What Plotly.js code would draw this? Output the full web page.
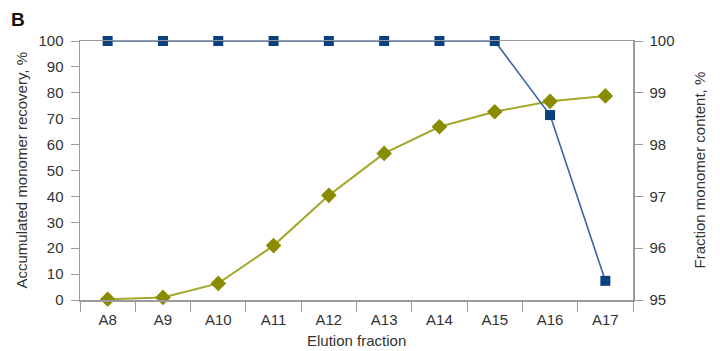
<!DOCTYPE html>
<html>
<head>
<meta charset="utf-8">
<script src="https://cdn.plot.ly/plotly-3.0.1.min.js"></script>
<style>html,body{margin:0;padding:0;background:#fff;}#chart{width:720px;height:351px;}</style>
</head>
<body>
<div id="chart"></div>
<script>
const fractions = ["A8","A9","A10","A11","A12","A13","A14","A15","A16","A17"];
const recovery = [0.3, 1.0, 6.4, 21.0, 40.4, 56.6, 66.9, 72.7, 76.7, 78.8];
const monomerContent = [100, 100, 100, 100, 100, 100, 100, 100, 98.57, 95.37];
const leftTicks = [0,10,20,30,40,50,60,70,80,90,100];
const rightTicks = [95,96,97,98,99,100];

const font = "Liberation Sans, Arial, sans-serif";
const axisColor = "#9a9a9a";
const textColor = "#333";

const traces = [
  {
    x: fractions, y: recovery, type: "scatter", mode: "lines+markers",
    line: {color: "#a4a72a", width: 2},
    marker: {symbol: "diamond", size: 12, color: "#8a8c00"},
    cliponaxis: false, yaxis: "y"
  },
  {
    x: fractions, y: monomerContent, type: "scatter", mode: "lines+markers",
    line: {color: "#3464a3", width: 1.6},
    marker: {symbol: "square", size: 10, color: "#0a3f80"},
    cliponaxis: false, yaxis: "y2"
  }
];

const layout = {
  width: 720, height: 351,
  margin: {l: 80, r: 87, t: 41, b: 51, autoexpand: false},
  paper_bgcolor: "#fff", plot_bgcolor: "#fff",
  showlegend: false,
  font: {family: font, size: 14, color: textColor},
  xaxis: {
    type: "category", tickvals: fractions, ticktext: fractions,
    range: [-0.5, fractions.length - 0.5],
    automargin: false,
    showline: true, linecolor: axisColor, linewidth: 1.5, mirror: true,
    ticks: "outside", tickson: "boundaries", ticklen: 10, tickcolor: axisColor,
    ticklabelstandoff: 5,
    showgrid: false, zeroline: false,
    tickfont: {family: font, size: 15, color: textColor}
  },
  yaxis: {
    range: [0, 100], tickvals: leftTicks, automargin: false,
    showline: true, linecolor: axisColor, linewidth: 1.5,
    ticks: "outside", ticklen: 8, tickcolor: axisColor,
    ticklabelstandoff: 4,
    showgrid: false, zeroline: false,
    tickfont: {family: font, size: 15, color: textColor}
  },
  yaxis2: {
    range: [95, 100], tickvals: rightTicks, overlaying: "y", side: "right", automargin: false,
    showline: true, linecolor: axisColor, linewidth: 1.5,
    ticks: "outside", ticklen: 8, tickcolor: axisColor,
    ticklabelstandoff: 4,
    showgrid: false, zeroline: false,
    tickfont: {family: font, size: 15, color: textColor}
  },
  annotations: [
    {text: "<b>B</b>", xref: "paper", yref: "paper", x: -0.128, y: 1.13, xanchor: "left", yanchor: "top",
     showarrow: false, font: {family: font, size: 19, color: "#111"}},
    {text: "Elution fraction", xref: "paper", yref: "paper", x: 0.5, y: -0.157, xanchor: "center", yanchor: "middle",
     showarrow: false, font: {family: font, size: 15, color: textColor}},
    {text: "Accumulated monomer recovery, %", xref: "paper", yref: "paper", x: 0, xshift: -59, y: 0.5,
     xanchor: "center", yanchor: "middle", textangle: -90, showarrow: false,
     font: {family: font, size: 15, color: textColor}},
    {text: "Fraction monomer content, %", xref: "paper", yref: "paper", x: 1, xshift: 66, y: 0.5,
     xanchor: "center", yanchor: "middle", textangle: -90, showarrow: false,
     font: {family: font, size: 15, color: textColor}}
  ]
};

Plotly.newPlot("chart", traces, layout, {displayModeBar: false, staticPlot: true});
</script>
</body>
</html>
